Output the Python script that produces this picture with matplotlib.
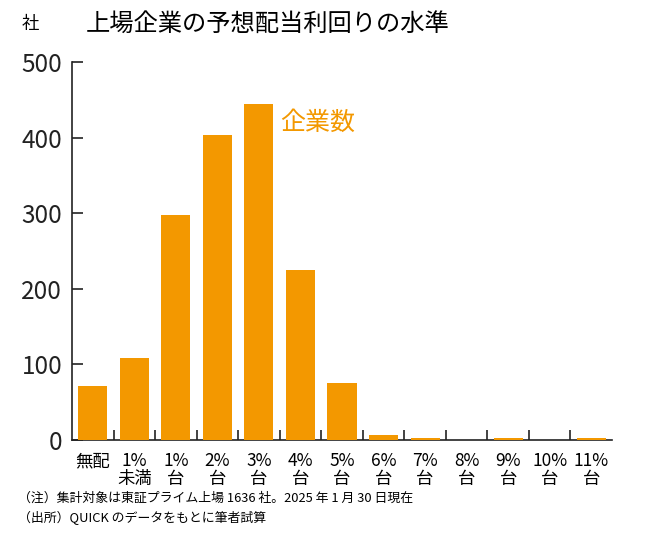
import matplotlib
matplotlib.use("Agg")
import matplotlib.pyplot as plt
import numpy as np

plt.rcParams['font.family'] = ['Noto Sans CJK JP', 'DejaVu Sans']

categories = ["無配", "1%\n未満", "1%\n台", "2%\n台", "3%\n台", "4%\n台", "5%\n台",
              "6%\n台", "7%\n台", "8%\n台", "9%\n台", "10%\n台", "11%\n台"]
counts = [71, 108, 298, 403, 445, 225, 76, 7, 2, 0, 2, 0.5, 2]
yticks = [0, 100, 200, 300, 400, 500]

title = "上場企業の予想配当利回りの水準"
series_label = "企業数"
unit_label = "社"
note1 = "（注）集計対象は東証プライム上場 1636 社。2025 年 1 月 30 日現在"
note2 = "（出所）QUICK のデータをもとに筆者試算"

color = "#F39800"

fig = plt.figure(figsize=(6.51, 5.37), dpi=100)
ax = fig.add_axes([72/651, 1-440/537, 540/651, 378/537])

x = np.arange(len(categories))
ax.bar(x, counts, width=0.7, color=color, zorder=3)
ax.set_xlim(-0.5, len(categories) - 0.5)
ax.set_ylim(0, 500)
ax.set_yticks(yticks)
ax.set_yticklabels([str(v) for v in yticks], fontsize=17.5)
ax.tick_params(axis='y', direction='in', length=8, width=1.2, pad=7, colors='#222222')
ax.tick_params(axis='x', which='major', length=0, pad=9)
ax.set_xticks(x)
ax.set_xticklabels(categories, fontsize=12.5, linespacing=0.95)
ax.set_xticks(np.arange(len(categories) - 1) + 0.5, minor=True)
ax.tick_params(axis='x', which='minor', direction='in', length=7, width=1.2, colors='#222222')
for s in ['top', 'right']:
    ax.spines[s].set_visible(False)
for s in ['left', 'bottom']:
    ax.spines[s].set_linewidth(1.2)
    ax.spines[s].set_color('#222222')

ax.text(4.5, 420, series_label, color=color, fontsize=18, va='center', ha='left')

fig.text(268/651, 1-24/537, title, fontsize=17.5, ha='center', va='center')
fig.text(30/651, 1-24/537, unit_label, fontsize=12.5, ha='center', va='center')
fig.text(18/651, 1-498/537, note1, fontsize=9.3, ha='left', va='center')
fig.text(18/651, 1-518/537, note2, fontsize=9.3, ha='left', va='center')

fig.savefig("out.png", dpi=100)
